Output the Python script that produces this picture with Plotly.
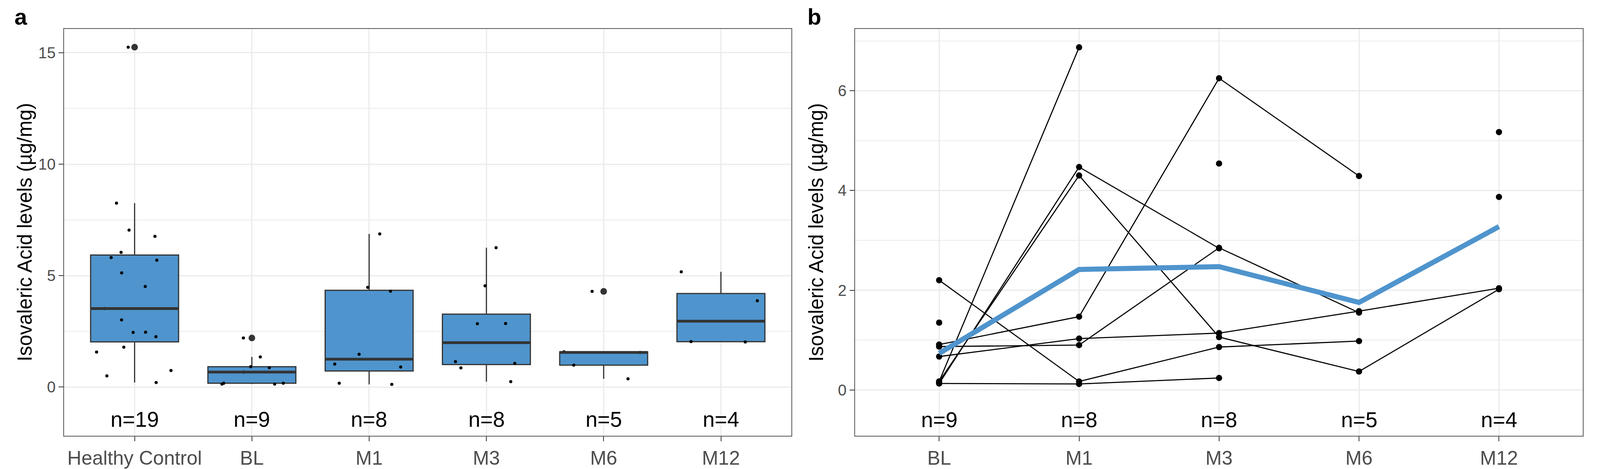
import numpy as np
import plotly.graph_objects as go

# panel a - healthy controls (ug/mg)
hc_values = [15.25, 8.25, 7.04, 6.76, 6.04, 5.69, 5.81, 5.12, 4.51, 3.52,
             3.01, 2.45, 2.46, 2.26, 1.79, 1.57, 0.74, 0.50, 0.20]

# patients, one column per subject, None = no sample at that visit
visits = ["BL", "M1", "M3", "M6", "M12"]
bl = [2.20, 0.91, 0.87, 0.67, 0.17, 0.13, 0.17, 0.13, 1.35, None, None]
m1 = [0.17, 1.47, 0.90, 1.03, 6.87, 4.47, 4.30, 0.12, None, None, None]
m3 = [0.86, 6.25, 2.85, 1.14, None, 2.84, 1.06, 0.24, 4.54, None, None]
m6 = [0.98, 4.29, 1.55, 1.58, None, None, 0.37, None, None, None, None]
m12 = [None, None, None, 2.04, None, None, 2.02, None, None, 5.17, 3.87]

group_labels = ["Healthy Control"] + visits
y_title = "Isovaleric Acid levels (µg/mg)"

BLUE = "#4F94CD"
DARK = "#333333"
BORDER = "#555555"
GRID = "#EBEBEB"
FONT = "Liberation Sans, Arial, sans-serif"
REF_W, H = 4408, 1200   # layout measured on a 4408 wide canvas
W = 4096                # the browser viewport is 4096 wide

patient_cols = [bl, m1, m3, m6, m12]
groups = [hc_values] + [[v for v in col if v is not None] for col in patient_cols]


def box_stats(vals):
    v = np.sort(np.asarray(vals, dtype=float))
    q1, med, q3 = np.percentile(v, [25, 50, 75])
    iqr = q3 - q1
    lo_lim, hi_lim = q1 - 1.5 * iqr, q3 + 1.5 * iqr
    inside = v[(v >= lo_lim) & (v <= hi_lim)]
    out = v[(v < lo_lim) | (v > hi_lim)]
    return q1, med, q3, inside.min(), inside.max(), out


fig = go.Figure()

# ---- panel a: boxplots
half_box = 0.375
for i, vals in enumerate(groups):
    q1, med, q3, lo, hi, out = box_stats(vals)
    fig.add_trace(go.Box(
        x=[i], q1=[q1], median=[med], q3=[q3], lowerfence=[lo], upperfence=[hi],
        width=2 * half_box, fillcolor=BLUE, line=dict(color=DARK, width=3),
        whiskerwidth=0, boxpoints=False, hoverinfo="skip",
        xaxis="x", yaxis="y", showlegend=False))
    # jittered raw points (invisible box, plotly does the jitter)
    fig.add_trace(go.Box(
        y=vals, x0=i, width=0.8, boxpoints="all", jitter=1, pointpos=0,
        fillcolor="rgba(0,0,0,0)", line=dict(width=0),
        marker=dict(color="black", size=8), hoverinfo="skip",
        xaxis="x", yaxis="y", showlegend=False))
    # thicker median bar like ggplot
    fig.add_trace(go.Scatter(
        x=[i - half_box, i + half_box], y=[med, med], mode="lines",
        line=dict(color=DARK, width=7), hoverinfo="skip",
        xaxis="x", yaxis="y", showlegend=False))
    if len(out):
        fig.add_trace(go.Scatter(
            x=[i] * len(out), y=out, mode="markers",
            marker=dict(color=DARK, size=17), hoverinfo="skip",
            xaxis="x", yaxis="y", showlegend=False))

# ---- panel b: individual trajectories + mean
xs = list(range(len(visits)))
n_subj = len(bl)
for s in range(n_subj):
    ys = [col[s] for col in patient_cols]
    fig.add_trace(go.Scatter(
        x=xs, y=ys, mode="lines+markers", connectgaps=False,
        line=dict(color="black", width=2.8), marker=dict(color="black", size=16),
        hoverinfo="skip", xaxis="x2", yaxis="y2", showlegend=False))

means = [np.mean([v for v in col if v is not None]) for col in patient_cols]
fig.add_trace(go.Scatter(
    x=xs, y=means, mode="lines", line=dict(color=BLUE, width=13),
    hoverinfo="skip", xaxis="x2", yaxis="y2", showlegend=False))

# ---- layout
dom_y = [1 - 1117 / H, 1 - 74 / H]
axis_common = dict(
    showline=True, linecolor=BORDER, linewidth=2, mirror=True,
    ticks="outside", ticklen=12, tickwidth=2, tickcolor=DARK,
    showgrid=True, gridcolor=GRID, gridwidth=3, zeroline=False,
)
x_common = dict(axis_common, tickmode="array",
                tickfont=dict(family=FONT, size=50, color="#4D4D4D"))
y_common = dict(axis_common, tickmode="linear", tick0=0,
                tickfont=dict(family=FONT, size=40, color="#4D4D4D"))

fig.update_layout(
    width=W, height=H, autosize=False,
    margin=dict(l=0, r=0, t=0, b=0),
    paper_bgcolor="white", plot_bgcolor="white",
    font=dict(family=FONT),
    boxmode="overlay",
    xaxis=dict(x_common, domain=[177 / REF_W, 2180 / REF_W], range=[-0.6, 5.6],
               tickvals=list(range(len(group_labels))), ticktext=group_labels,
               anchor="y"),
    yaxis=dict(y_common, domain=dom_y, range=[-2.19, 16.07], dtick=5,
               minor=dict(dtick=2.5, tick0=0, showgrid=True, gridcolor=GRID,
                          gridwidth=1.5, ticks=""),
               anchor="x"),
    xaxis2=dict(x_common, domain=[2356 / REF_W, 4361 / REF_W], range=[-0.6, 4.6],
                tickvals=xs, ticktext=visits, anchor="y2"),
    yaxis2=dict(y_common, domain=dom_y, range=[-0.92, 7.24], dtick=2,
                minor=dict(dtick=1, tick0=0, showgrid=True, gridcolor=GRID,
                           gridwidth=1.5, ticks=""),
                anchor="x2"),
)

annotations = []
for i, vals in enumerate(groups):
    annotations.append(dict(x=i, y=-1.45, xref="x", yref="y", text=f"n={len(vals)}",
                            showarrow=False, font=dict(size=55, color="black")))
for i, vals in enumerate(groups[1:]):
    annotations.append(dict(x=i, y=-0.6, xref="x2", yref="y2", text=f"n={len(vals)}",
                            showarrow=False, font=dict(size=55, color="black")))
y_mid = (dom_y[0] + dom_y[1]) / 2
for xpos in (68 / REF_W, 2249 / REF_W):
    annotations.append(dict(x=xpos, y=y_mid, xref="paper", yref="paper", text=y_title,
                            textangle=-90, showarrow=False, xanchor="center",
                            yanchor="middle", font=dict(size=51, color="black")))
for letter, xpos in (("a", 38 / REF_W), ("b", 2222 / REF_W)):
    annotations.append(dict(x=xpos, y=1 - 8 / H, xref="paper", yref="paper",
                            text=f"<b>{letter}</b>", showarrow=False, xanchor="left",
                            yanchor="top", font=dict(size=58, color="black")))
fig.update_layout(annotations=annotations)

# drop the default page margin so the figure fills the window exactly
fig.write_html("out.html", config={"displayModeBar": False},
               post_script="document.body.style.margin='0';document.body.style.overflow='hidden';")
